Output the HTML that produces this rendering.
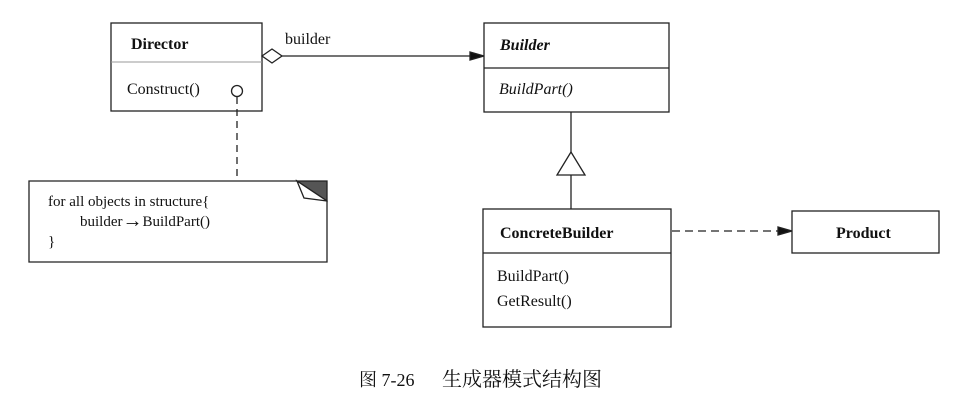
<!DOCTYPE html>
<html><head><meta charset="utf-8"><style>
html,body{margin:0;padding:0;background:#fff;}
svg{display:block;}
text{font-family:"Liberation Serif","Noto Serif CJK SC",serif;fill:#111;}
</style></head><body>
<svg width="973" height="405" viewBox="0 0 973 405" xmlns="http://www.w3.org/2000/svg">
<rect x="0" y="0" width="973" height="405" fill="#fff"/>
<g stroke="#222" stroke-width="1.3" fill="none">
<rect x="111" y="23" width="151" height="88" fill="#fff"/>
<line x1="111" y1="62" x2="262" y2="62" stroke="#999" stroke-width="1"/>
<circle cx="237" cy="91" r="5.5" fill="#fff"/>
<line x1="237" y1="97" x2="237" y2="181" stroke-dasharray="7,5"/>
<polygon points="262,56 272,49 282,56 272,63" fill="#fff"/>
<line x1="282" y1="56" x2="474" y2="56"/>
<polygon points="484,56 470,52 470,60" fill="#111"/>
<rect x="484" y="23" width="185" height="89" fill="#fff"/>
<line x1="484" y1="68" x2="669" y2="68"/>
<line x1="571" y1="112" x2="571" y2="152"/>
<polygon points="571,152 557,175 585,175" fill="#fff"/>
<line x1="571" y1="175" x2="571" y2="209"/>
<rect x="483" y="209" width="188" height="118" fill="#fff"/>
<line x1="483" y1="253" x2="671" y2="253"/>
<line x1="672" y1="231" x2="780" y2="231" stroke-dasharray="8,5"/>
<polygon points="792,231 778,227 778,235" fill="#111"/>
<rect x="792" y="211" width="147" height="42" fill="#fff"/>
<polygon points="29,181 297,181 327,201 327,262 29,262" fill="#fff"/>
<polygon points="297,181 327,181 327,201" fill="#555"/>
<polygon points="297,181 304,198 327,201" fill="#fff"/>
</g>
<text x="131" y="49" font-size="16" font-weight="bold">Director</text>
<text x="127" y="94" font-size="16">Construct()</text>
<text x="285" y="44" font-size="16">builder</text>
<text x="500" y="50" font-size="16" font-weight="bold" font-style="italic">Builder</text>
<text x="499" y="94" font-size="16" font-style="italic">BuildPart()</text>
<text x="500" y="238" font-size="16" font-weight="bold">ConcreteBuilder</text>
<text x="497" y="281" font-size="16">BuildPart()</text>
<text x="497" y="306" font-size="16">GetResult()</text>
<text x="836" y="238" font-size="16" font-weight="bold">Product</text>
<text x="48" y="206" font-size="15">for all objects in structure{</text>
<text x="80" y="226" font-size="15">builder<tspan font-size="20" dy="1">→</tspan><tspan dy="-1">BuildPart()</tspan></text>
<text x="48" y="246" font-size="15">}</text>
<text x="359" y="386" font-size="18">图 7-26</text>
<text x="442" y="386" font-size="20" font-family="'Noto Serif CJK SC',serif">生成器模式结构图</text>
</svg>
</body></html>
